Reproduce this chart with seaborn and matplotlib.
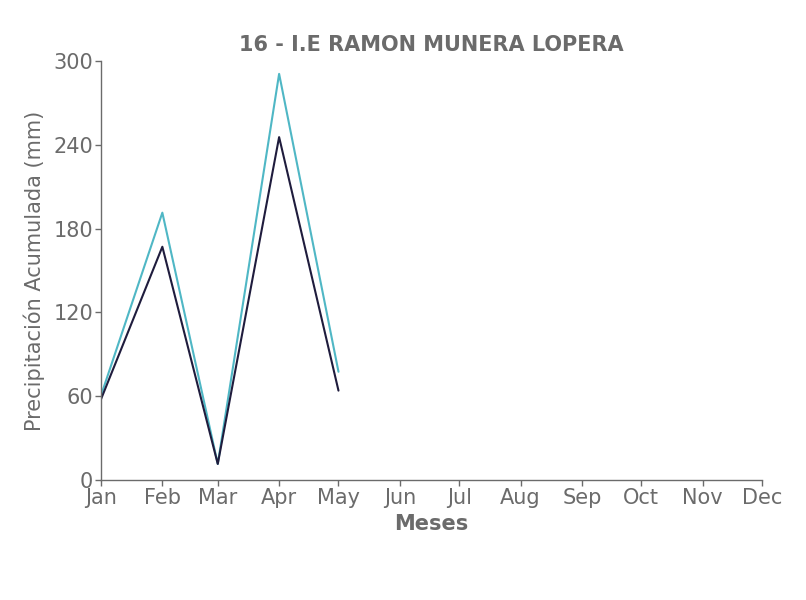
import matplotlib
matplotlib.use("Agg")
import matplotlib.pyplot as plt
import seaborn as sns
import pandas as pd

months = ["2023-01-01", "2023-02-01", "2023-03-01", "2023-04-01", "2023-05-01"]
serie_oscura = [57.8, 167.0, 11.5, 245.5, 64.0]
serie_turquesa = [60.5, 191.4, 11.5, 290.8, 77.5]
tick_labels = ["Jan", "Feb", "Mar", "Apr", "May", "Jun", "Jul", "Aug", "Sep", "Oct", "Nov", "Dec"]
yticks = [0, 60, 120, 180, 240, 300]

sns.set_style("white")
plt.rcParams['font.family'] = ['DejaVu Sans']
gray = "#6b6b6b"

df = pd.DataFrame({
    "fecha": pd.to_datetime(months * 2),
    "valor": serie_turquesa + serie_oscura,
    "serie": ["turquesa"] * len(months) + ["oscura"] * len(months),
})

fig = plt.figure(figsize=(8.06, 6.0), dpi=100)
ax = fig.add_axes([101/806, 120/600, 661/806, 419/600])
sns.lineplot(data=df, x="fecha", y="valor", hue="serie",
             palette={"turquesa": "#4fb7c5", "oscura": "#1f1c3d"},
             linewidth=1.5, legend=False, ax=ax)

ticks = pd.date_range("2023-01-01", "2023-12-01", freq="MS")
ax.set_xticks(ticks)
ax.set_xticklabels(tick_labels)
ax.set_xlim(ticks[0], ticks[-1])
ax.set_ylim(0, 300)
ax.set_yticks(yticks)

for s in ["top", "right"]:
    ax.spines[s].set_visible(False)
for s in ["left", "bottom"]:
    ax.spines[s].set_color(gray)
    ax.spines[s].set_linewidth(1.0)
ax.tick_params(axis="both", colors=gray, labelsize=15, length=4, width=1, direction="out",
               bottom=True, left=True, pad=1.5)
for lab in ax.get_xticklabels() + ax.get_yticklabels():
    lab.set_color(gray)

ax.set_xlabel("Meses", fontsize=15, fontweight="bold", color=gray, labelpad=4.5)
ax.set_ylabel("Precipitación Acumulada (mm)", fontsize=15, color=gray, labelpad=6)
ax.set_title("16 - I.E RAMON MUNERA LOPERA", fontsize=15, fontweight="bold", color=gray, pad=7)

fig.savefig("out.png", dpi=100)
